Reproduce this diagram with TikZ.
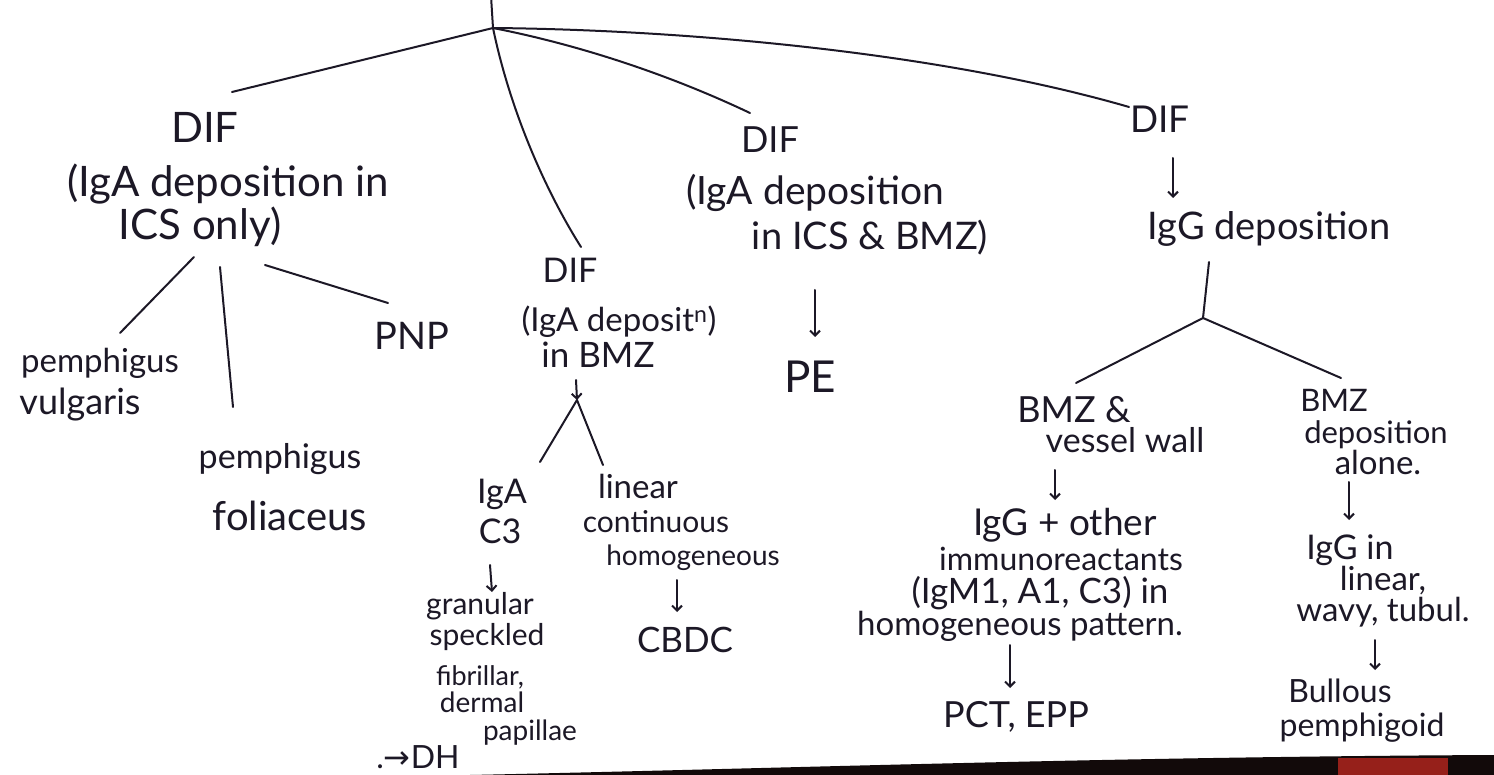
\documentclass[tikz,border=0pt]{standalone}
\usepackage{fontspec}
\setmainfont{Lato}
\newfontfamily\symfont{DejaVu Sans}
\usetikzlibrary{calc,arrows.meta}
\definecolor{ink}{RGB}{28,24,38}
\definecolor{band}{RGB}{18,10,10}
\definecolor{bandred}{RGB}{150,32,26}
\begin{document}
\begin{tikzpicture}[x=1pt,y=-1pt,
  hw/.style={font=\fontsize{#1}{#1}\selectfont, text=ink, inner sep=1pt, anchor=base},
  hw/.default=34,
  branch/.style={draw=ink, line width=2pt, line cap=round},
  arrowdown/.style={branch, -{Straight Barb[length=5pt,width=10pt]}}
]
\useasboundingbox (0,0) rectangle (1494,775);
\fill[white] (0,0) rectangle (1494,775);

% root of the tree
\coordinate (top) at (491,-4);
\coordinate (root) at (493,28);

% ---- IgA in ICS only
\node[hw=42] (a1) at (205,143) {DIF};
\node[hw=42] (a2) at (228,197) {(IgA deposition in};
\node[hw=42] (a3) at (200,240) {ICS only)};
\node[hw=33] (pv1) at (100,373) {pemphigus};
\node[hw=36] (pv2) at (80,415) {vulgaris};
\node[hw=34] (pf1) at (280,468) {pemphigus};
\node[hw=40] (pf2) at (290,530) {foliaceus};
\node[hw=38] (pnp) at (412,350) {PNP};

% ---- IgA in BMZ
\node[hw=34] (b1) at (570,283) {DIF};
\node[hw=33] (b2) at (619,332) {(IgA deposit\textsuperscript{n})};
\node[hw=35] (b3) at (598,368) {in BMZ};
\node[hw=34] (b4) at (502,503) {IgA};
\node[hw=34] (b5) at (500,543) {C3};
\node[hw=30] (b6) at (480,614) {granular};
\node[hw=30] (b7) at (487,645) {speckled};
\node[hw=27] (b8) at (480,685) {fibrillar,};
\node[hw=28] (b9) at (482,712) {dermal};
\node[hw=28] (b10) at (530,740) {papillae};
\node[hw=32] (dh) at (418,768) {.{\symfont →}DH};
\node[hw=33] (b11) at (638,498) {linear};
\node[hw=30] (b12) at (656,532) {continuous};
\node[hw=28] (b13) at (693,565) {homogeneous};
\node[hw=35] (cbdc) at (685,652) {CBDC};

% ---- IgA in ICS and BMZ
\node[hw=36] (c1) at (770,153) {DIF};
\node[hw=39] (c2) at (815,205) {(IgA deposition};
\node[hw=38] (c3) at (870,250) {in ICS \& BMZ)};
\node[hw=44] (pe) at (810,393) {PE};

% ---- IgG
\node[hw=37] (d1) at (1160,133) {DIF};
\node[hw=38] (d2) at (1269,240) {IgG deposition};
\node[hw=36] (e1) at (1074,422) {BMZ \&};
\node[hw=34] (e2) at (1125,453) {vessel wall};
\node[hw=37] (e3) at (1065,535) {IgG + other};
\node[hw=32] (e4) at (1061,570) {immunoreactants};
\node[hw=35] (e5) at (1040,603) {(IgM1, A1, C3) in};
\node[hw=33] (e6) at (1020,635) {homogeneous pattern.};
\node[hw=36] (pct) at (1016,727) {PCT, EPP};
\node[hw=31] (f1) at (1334,412) {BMZ};
\node[hw=31] (f2) at (1376,443) {deposition};
\node[hw=33] (f3) at (1378,474) {alone.};
\node[hw=34] (f4) at (1350,559) {IgG in};
\node[hw=33] (f5) at (1383,590) {linear,};
\node[hw=33] (f6) at (1383,621) {wavy, tubul.};
\node[hw=32] (bp1) at (1340,702) {Bullous};
\node[hw=32] (bp2) at (1362,736) {pemphigoid};

% ---- branches from the root
\draw[branch] (top) -- (root);
\draw[branch] (root) -- ($(a1.base)+(27,-51)$);
\draw[branch] (root) .. controls (510,110) and (545,190) .. ($(b1.base)+(11,-36)$);
\draw[branch] (root) .. controls (580,45) and (670,75) .. ($(c1.base)+(-20,-40)$);
\draw[branch] (root) .. controls (700,30) and (950,55) .. ($(d1.base)+(-31,-26)$);

% ---- ICS only
\draw[branch] ($(a3.base)+(-6,17)$) -- ($(pv1.base)+(20,-40)$);
\draw[branch] ($(a3.base)+(20,27)$) -- ($(pf1.base)+(-47,-61)$);
\draw[branch] ($(a3.base)+(65,25)$) -- ($(pnp.base)+(-24,-47)$);

% ---- BMZ
\coordinate (jB) at (577,400);
\draw[arrowdown] ($(b3.base)+(-22,12)$) -- (jB);
\draw[branch] (jB) -- ($(b4.base)+(38,-41)$);
\draw[branch] (jB) -- ($(b11.base)+(-35,-33)$);
\draw[arrowdown] ($(b5.base)+(-10,22)$) -- ($(b6.base)+(12,-22)$);
\draw[arrowdown] ($(b13.base)+(-16,15)$) -- ($(cbdc.base)+(-8,-40)$);

% ---- ICS and BMZ
\draw[arrowdown] ($(c3.base)+(-55,40)$) -- ($(pe.base)+(5,-56)$);

% ---- IgG
\draw[arrowdown] ($(d1.base)+(13,25)$) -- ($(d2.base)+(-96,-42)$);
\coordinate (jD) at (1203,318);
\draw[branch] ($(d2.base)+(-60,22)$) -- (jD);
\draw[branch] (jD) -- ($(e1.base)+(2,-39)$);
\draw[branch] (jD) -- ($(f1.base)+(7,-34)$);
\draw[arrowdown] ($(e2.base)+(-70,17)$) -- ($(e3.base)+(-10,-35)$);
\draw[arrowdown] ($(e6.base)+(-10,10)$) -- ($(pct.base)+(-6,-39)$);
\draw[arrowdown] ($(f3.base)+(-29,8)$) -- ($(f4.base)+(-1,-39)$);
\draw[arrowdown] ($(f6.base)+(-8,19)$) -- ($(bp1.base)+(35,-32)$);

% ---- dark edge along the bottom
\fill[band] (470,775) .. controls (800,768) and (1100,757) .. (1494,755) -- (1494,775) -- cycle;
\fill[bandred] (1338,758) rectangle (1448,775);
\end{tikzpicture}
\end{document}
